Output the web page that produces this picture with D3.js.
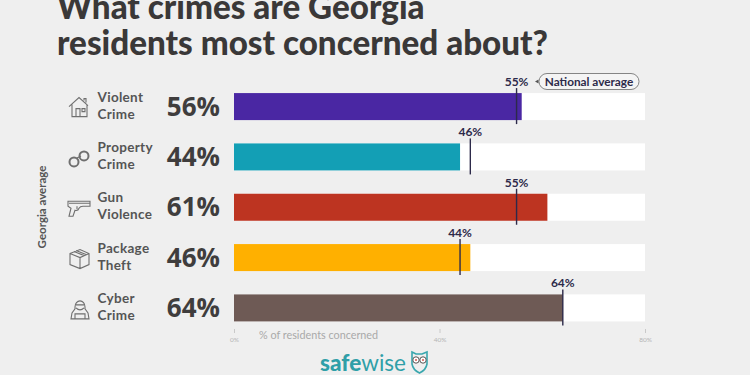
<!DOCTYPE html>
<html>
<head>
<meta charset="utf-8">
<script src="https://cdn.jsdelivr.net/npm/d3@7"></script>
<style>
  html, body { margin: 0; padding: 0; background: #efefef; overflow: hidden; }
  svg { display: block; font-family: Lato, "Open Sans", sans-serif; }
</style>
</head>
<body>
<div id="chart"></div>
<script>
const CATEGORIES = [["Violent", "Crime"], ["Property", "Crime"], ["Gun", "Violence"], ["Package", "Theft"], ["Cyber", "Crime"]];
const ICONS = ["house", "cuffs", "gun", "box", "hacker"];
const GEORGIA = [56, 44, 61, 46, 64];
const NATIONAL = [55, 46, 55, 44, 64];
const COLORS = ["#4a27a3", "#139fb5", "#bd3421", "#ffb000", "#6e5a55"];
const X_TICKS = [0, 40, 80];
const TITLE = ["What crimes are Georgia", "residents most concerned about?"];

const width = 750, height = 375;
const ink = "#3f3d3d", navy = "#2d2a4a", iconInk = "#6f6f6f";

const svg = d3.select("#chart").append("svg").attr("width", width).attr("height", height);

const x = d3.scaleLinear().domain([0, 80]).range([234, 645]);
const y = d3.scaleBand().domain(d3.range(CATEGORIES.length)).range([81.5, 333]).paddingInner(0.463).paddingOuter(0.23);

// title, first line runs off the top like the screenshot
svg.selectAll("text.title").data(TITLE).join("text")
    .attr("class", "title")
    .attr("x", 57).attr("y", (d, i) => 18.5 + i * 36)
    .attr("font-size", 33.2).attr("font-weight", 900).attr("fill", "#3a3838")
    .text(d => d);

// white track, then georgia bar
svg.selectAll("rect.track").data(GEORGIA).join("rect")
    .attr("class", "track")
    .attr("x", x(0)).attr("y", (d, i) => y(i))
    .attr("width", x(80) - x(0)).attr("height", y.bandwidth())
    .attr("fill", "#fff");
svg.selectAll("rect.bar").data(GEORGIA).join("rect")
    .attr("class", "bar")
    .attr("x", x(0)).attr("y", (d, i) => y(i))
    .attr("width", d => x(d) - x(0)).attr("height", y.bandwidth())
    .attr("fill", (d, i) => COLORS[i]);

// national average markers
svg.selectAll("line.nat").data(NATIONAL).join("line")
    .attr("class", "nat")
    .attr("x1", d => x(d)).attr("x2", d => x(d))
    .attr("y1", (d, i) => y(i) - 5).attr("y2", (d, i) => y(i) + y.bandwidth() + 4)
    .attr("stroke", navy).attr("stroke-width", 1.4);
svg.selectAll("text.nat").data(NATIONAL).join("text")
    .attr("class", "nat")
    .attr("x", d => x(d)).attr("y", (d, i) => y(i) - 7)
    .attr("text-anchor", "middle").attr("font-size", 12).attr("font-weight", 700)
    .attr("fill", navy)
    .text(d => d + "%");

// big georgia values
svg.selectAll("text.val").data(GEORGIA).join("text")
    .attr("class", "val")
    .attr("x", 220).attr("y", (d, i) => y(i) + y.bandwidth() / 2 + 9)
    .attr("text-anchor", "end").attr("font-size", 26).attr("font-weight", 700)
    .attr("font-family", "Open Sans")
    .attr("fill", ink)
    .text(d => d + "%");

// category labels
CATEGORIES.forEach((lines, i) => {
  svg.append("g").selectAll("text").data(lines).join("text")
      .attr("x", 97.5)
      .attr("y", (d, j) => y(i) + y.bandwidth() / 2 - 5 + j * 17)
      .attr("font-size", 13.5).attr("font-weight", 700).attr("fill", "#555")
      .attr("letter-spacing", 0.3)
      .text(d => d);
});

// icons, drawn in a 24x24 box centred on each row
const iconDraw = {
  house(g) {
    g.append("path").attr("d", "M1 11 L11 2 L20 10 M4 9 V21 H19 V9 M16 5 V3 H18 V7 M8 21 V13 H12 V21 M14 13 H17 V16 H14 Z");
  },
  cuffs(g) {
    g.append("circle").attr("cx", 6).attr("cy", 16).attr("r", 4.5).attr("stroke-width", 2);
    g.append("circle").attr("cx", 16).attr("cy", 10).attr("r", 4.5).attr("stroke-width", 2);
    g.append("path").attr("d", "M9 12 L13 10");
  },
  gun(g) {
    g.append("path").attr("d", "M0 5 H22 V10 H15 Q12 10 11 12 Q10 15 7 14 L5 20 H1 L3 12 L0 10 Z M9 10 V13 M1 7 H22");
  },
  box(g) {
    g.append("path").attr("d", "M2 7 L12 3 L21 7 V18 L12 22 L2 18 Z M2 7 L12 11 L21 7 M12 11 V22 M6 5 L16 9 M8 4 L18 8");
  },
  hacker(g) {
    g.append("path").attr("d", "M7 10 A5 6 0 0 1 17 10 V12 L20 16 L21 22 H3 L4 16 L7 12 Z M8 11 Q12 15 16 11 M7 17 H17 V22 H7 Z M8 8 H16");
  }
};
ICONS.forEach((name, i) => {
  const g = svg.append("g")
      .attr("transform", `translate(68, ${y(i) + y.bandwidth() / 2 - 11})`)
      .attr("fill", "none").attr("stroke", iconInk).attr("stroke-width", 1.1);
  iconDraw[name](g);
});

// axis: small ticks and pale labels
const axis = d3.axisBottom(x).tickValues(X_TICKS).tickFormat(d => d + "%").tickSize(4).tickPadding(4);
const axisG = svg.append("g").attr("transform", "translate(0, 329)").call(axis);
axisG.select(".domain").remove();
axisG.selectAll("line").attr("stroke", "#c9c9c9");
axisG.selectAll("text").attr("fill", "#b5b5b5").attr("font-size", 6.5).attr("font-family", "Lato");

svg.append("text").attr("x", 259).attr("y", 339)
    .attr("font-size", 10.8).attr("fill", "#a9a9a9").text("% of residents concerned");

// rotated y title
svg.append("text")
    .attr("transform", "translate(46, 207) rotate(-90)")
    .attr("text-anchor", "middle").attr("font-size", 11.5).attr("font-weight", 700)
    .attr("fill", "#555").text("Georgia average");

// national average callout
svg.append("rect").attr("x", 539).attr("y", 73.5).attr("width", 100).attr("height", 16).attr("rx", 8)
    .attr("fill", "#f4f4f4").attr("stroke", "#777").attr("stroke-width", 0.9);
svg.append("path").attr("d", "M535 81.5 L538.5 79.5 V83.5 Z").attr("fill", "#555");
svg.append("text").attr("x", 589).attr("y", 85.5).attr("text-anchor", "middle")
    .attr("font-size", 11.8).attr("font-weight", 700).attr("fill", navy).text("National average");

// safewise logo
const logo = svg.append("text").attr("x", 320).attr("y", 371).attr("font-size", 22.5).attr("fill", "#2f9fa8");
logo.append("tspan").attr("font-weight", 900).text("safe");
logo.append("tspan").attr("font-weight", 400).text("wise");
const owl = svg.append("g").attr("transform", "translate(411, 352)").attr("fill", "none").attr("stroke", "#3aa7ae").attr("stroke-width", 1.6);
owl.append("path").attr("d", "M1 0 L5 2 H11 L16 0 V12 Q15 18 8.5 21 Q2 18 1 12 Z");
owl.append("circle").attr("cx", 5).attr("cy", 8).attr("r", 3.2).attr("stroke", "#555").attr("fill", "#fff").attr("stroke-width", 1);
owl.append("circle").attr("cx", 12).attr("cy", 8).attr("r", 3.2).attr("stroke", "#555").attr("fill", "#fff").attr("stroke-width", 1);
owl.append("circle").attr("cx", 5).attr("cy", 8).attr("r", 1).attr("stroke", "none").attr("fill", "#d9534f");
owl.append("circle").attr("cx", 12).attr("cy", 8).attr("r", 1).attr("stroke", "none").attr("fill", "#d9534f");
</script>
</body>
</html>
